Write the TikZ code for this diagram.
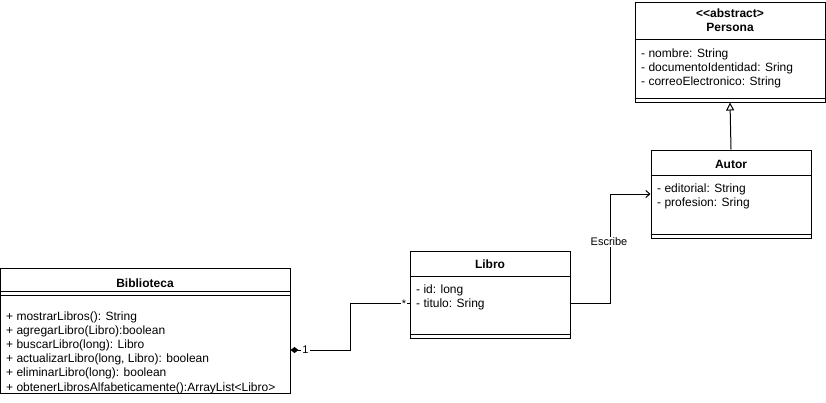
\documentclass[tikz,border=0pt]{standalone}
\usepackage{fontspec}
\setmainfont{Liberation Sans}
\usetikzlibrary{arrows.meta,calc}
\begin{document}
\begin{tikzpicture}[x=1pt,y=-1pt,
  box/.style={draw, line width=1pt, inner sep=0pt, rectangle},
  ttl/.style={font=\fontsize{12}{14}\selectfont\bfseries, anchor=base, inner sep=0pt},
  txt/.style={font=\fontsize{12}{14}\selectfont, anchor=base west, inner sep=0pt},
  lbl/.style={font=\fontsize{11}{13}\selectfont, inner sep=1pt, fill=white},
  ln/.style={line width=1pt}]
\useasboundingbox (0,0) rectangle (826,402);

% Persona
\node[box, minimum width=190pt, minimum height=100pt] (persona) at (730,52) {};
\draw[ln] ($(persona.north west)+(0,38)$) -- ($(persona.north east)+(0,38)$);
\draw[ln] ($(persona.south west)+(0,-4)$) -- ($(persona.south east)+(0,-4)$);
\node[ttl] (personaS) at (730,17) {<\kern0pt<abstract>};
\node[ttl] (personaT) at (730,31.5) {Persona};
\node[txt] (pa1) at (641,57) {- nombre: String};
\node[txt] (pa2) at (641,71.4) {- documentoIdentidad: Sring};
\node[txt] (pa3) at (641,85.8) {- correoElectronico: String};

% Autor
\node[box, minimum width=160pt, minimum height=88pt] (autor) at (731,194) {};
\draw[ln] ($(autor.north west)+(0,26)$) -- ($(autor.north east)+(0,26)$);
\draw[ln] ($(autor.south west)+(0,-4)$) -- ($(autor.south east)+(0,-4)$);
\node[ttl] (autorT) at (731,168) {Autor};
\node[txt] (aa1) at (657,192) {- editorial: String};
\node[txt] (aa2) at (657,206.4) {- profesion: Sring};

% Libro
\node[box, minimum width=160pt, minimum height=87pt] (libro) at (490,294.5) {};
\draw[ln] ($(libro.north west)+(0,26)$) -- ($(libro.north east)+(0,26)$);
\draw[ln] ($(libro.south west)+(0,-4)$) -- ($(libro.south east)+(0,-4)$);
\node[ttl] (libroT) at (490,268.5) {Libro};
\node[txt] (la1) at (416,293) {- id: long};
\node[txt] (la2) at (416,307.4) {- titulo: Sring};

% Biblioteca
\node[box, minimum width=289.5pt, minimum height=125pt] (biblio) at (145.25,330.5) {};
\draw[ln] ($(biblio.north west)+(0,24)$) -- ($(biblio.north east)+(0,24)$);
\draw[ln] ($(biblio.north west)+(0,28)$) -- ($(biblio.north east)+(0,28)$);
\node[ttl] (biblioT) at (145,287.5) {Biblioteca};
\node[txt] (bm1) at (6,320.5) {+ mostrarLibros(): String};
\node[txt] (bm2) at (6,334.6) {+ agregarLibro(Libro):boolean};
\node[txt] (bm3) at (6,348.7) {+ buscarLibro(long): Libro};
\node[txt] (bm4) at (6,362.8) {+ actualizarLibro(long, Libro): boolean};
\node[txt] (bm5) at (6,376.9) {+ eliminarLibro(long): boolean};
\node[txt] (bm6) at (6,391) {+ obtenerLibrosAlfabeticamente():ArrayList<Libro>};

% Connectors
\draw[ln, -{Triangle[open, length=8pt, width=8pt]}] (autor.north) -- (persona.south);
\draw[ln, -{Straight Barb[length=4pt, width=7pt]}] ([yshift=-8.5pt]libro.east) -- ++(40,0) |- (autor.west);
\node[lbl] (escribe) at (609,242) {Escribe};
\draw[ln, {Diamond[length=8pt, width=6pt]}-] ([yshift=-19.5pt]biblio.east) -- ++(60,0) |- ([yshift=-8.5pt]libro.west);
\node[lbl] (one) at (305.5,350) {1};
\node[lbl] (many) at (404,304) {*};
\end{tikzpicture}
\end{document}
